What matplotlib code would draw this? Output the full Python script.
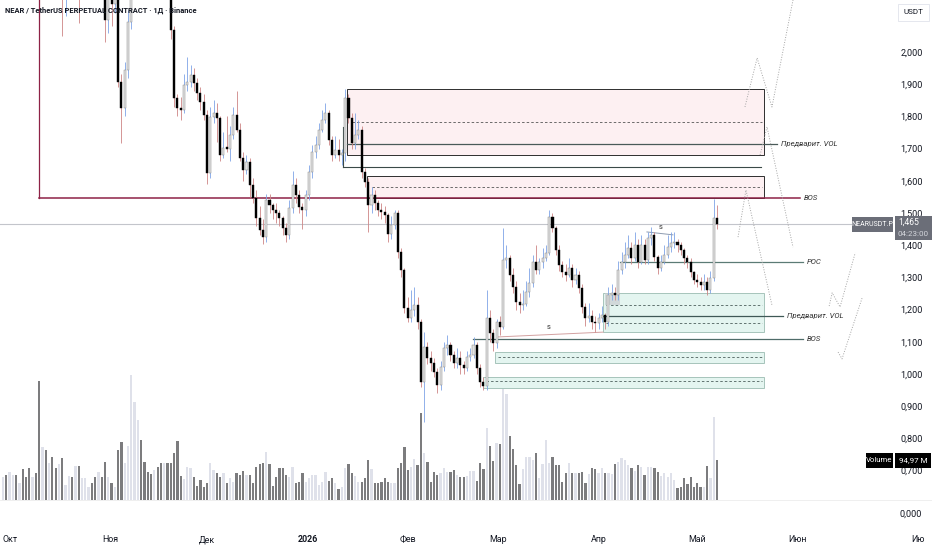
import matplotlib
matplotlib.use("Agg")
import matplotlib.pyplot as plt
import matplotlib.transforms as mtransforms
from matplotlib.patches import Rectangle
import numpy as np

# ---------------- data ----------------
first_open = 2.74
closes = [
    2.78, 2.72, 2.80, 2.88, 2.85, 2.95, 2.92, 2.86, 2.78, 2.82,
    2.74, 2.25, 2.38, 2.30, 2.42, 2.35, 2.28, 2.33, 2.22, 2.26,
    2.35, 2.30, 2.36, 2.24, 2.28, 2.34, 2.40, 2.37, 2.31, 2.36,
    2.28, 2.10, 2.18, 2.15, 2.22, 1.907, 1.826, 1.944, 2.093, 2.45,
    2.85, 3.05, 2.88, 2.74, 2.62, 2.58, 2.68, 2.60, 2.50, 2.55,
    2.40, 2.068, 1.857, 1.826, 1.820, 1.897, 1.907, 1.929, 1.904, 1.873,
    1.845, 1.804, 1.624, 1.798, 1.811, 1.795, 1.680, 1.702, 1.700, 1.742,
    1.804, 1.758, 1.671, 1.634, 1.658, 1.587, 1.547, 1.484, 1.447, 1.425,
    1.540, 1.525, 1.509, 1.500, 1.484, 1.453, 1.432, 1.516, 1.587, 1.556,
    1.519, 1.509, 1.556, 1.627, 1.689, 1.711, 1.758, 1.789, 1.811, 1.727,
    1.680, 1.696, 1.680, 1.686, 1.857, 1.795, 1.717, 1.742, 1.758, 1.627,
    1.596, 1.525, 1.556, 1.531, 1.509, 1.503, 1.494, 1.435, 1.463, 1.500,
    1.379, 1.323, 1.205, 1.174, 1.199, 1.214, 1.161, 0.975, 1.084, 1.050,
    1.034, 1.006, 0.966, 1.022, 1.081, 1.090, 1.059, 1.034, 1.050, 1.028,
    1.019, 1.053, 1.059, 1.090, 1.019, 0.975, 0.963, 1.174, 1.127, 1.096,
    1.161, 1.146, 1.354, 1.360, 1.307, 1.270, 1.224, 1.214, 1.217, 1.255,
    1.283, 1.348, 1.323, 1.348, 1.360, 1.376, 1.488, 1.453, 1.385, 1.339,
    1.317, 1.307, 1.329, 1.292, 1.307, 1.267, 1.208, 1.174, 1.180, 1.161,
    1.158, 1.174, 1.183, 1.161, 1.245, 1.252, 1.245, 1.323, 1.348, 1.370,
    1.391, 1.360, 1.401, 1.348, 1.401, 1.354, 1.422, 1.432, 1.363, 1.329,
    1.348, 1.370, 1.394, 1.407, 1.410, 1.401, 1.385, 1.360, 1.348, 1.317,
    1.292, 1.286, 1.276, 1.286, 1.261, 1.298, 1.484, 1.465,
]
highs = [
    2.82, 2.80, 2.83, 2.92, 2.93, 3.00, 2.99, 2.95, 2.89, 2.86,
    2.84, 2.78, 2.44, 2.41, 2.47, 2.45, 2.38, 2.37, 2.35, 2.30,
    2.39, 2.38, 2.40, 2.38, 2.32, 2.37, 2.45, 2.43, 2.40, 2.39,
    2.38, 2.30, 2.22, 2.21, 2.26, 2.25, 1.93, 1.97, 2.13, 2.52,
    2.98, 3.20, 3.10, 2.92, 2.78, 2.66, 2.72, 2.70, 2.63, 2.59,
    2.57, 2.42, 2.08, 1.87, 1.86, 1.93, 1.985, 1.96, 1.95, 1.92,
    1.89, 1.87, 1.82, 1.83, 1.85, 1.84, 1.80, 1.75, 1.80, 1.77,
    1.83, 1.88, 1.78, 1.69, 1.68, 1.67, 1.61, 1.57, 1.52, 1.48,
    1.56, 1.56, 1.53, 1.53, 1.51, 1.49, 1.47, 1.54, 1.63, 1.61,
    1.57, 1.53, 1.57, 1.65, 1.71, 1.74, 1.78, 1.82, 1.84, 1.82,
    1.74, 1.74, 1.73, 1.70, 1.885, 1.87, 1.81, 1.81, 1.79, 1.77,
    1.64, 1.61, 1.58, 1.57, 1.54, 1.53, 1.52, 1.50, 1.49, 1.51,
    1.51, 1.39, 1.33, 1.24, 1.26, 1.27, 1.24, 1.17, 1.13, 1.10,
    1.07, 1.05, 1.02, 1.04, 1.10, 1.12, 1.10, 1.07, 1.08, 1.07,
    1.04, 1.07, 1.08, 1.115, 1.10, 1.03, 0.99, 1.261, 1.20, 1.14,
    1.17, 1.18, 1.453, 1.40, 1.37, 1.33, 1.29, 1.25, 1.26, 1.29,
    1.33, 1.37, 1.40, 1.36, 1.39, 1.40, 1.509, 1.50, 1.46, 1.40,
    1.35, 1.34, 1.36, 1.34, 1.33, 1.32, 1.28, 1.22, 1.22, 1.20,
    1.18, 1.19, 1.21, 1.19, 1.27, 1.28, 1.27, 1.35, 1.38, 1.41,
    1.43, 1.41, 1.44, 1.42, 1.43, 1.42, 1.44, 1.455, 1.44, 1.37,
    1.37, 1.40, 1.43, 1.44, 1.44, 1.42, 1.41, 1.39, 1.37, 1.36,
    1.32, 1.31, 1.30, 1.31, 1.30, 1.32, 1.543, 1.525,
]
lows = [
    2.70, 2.68, 2.70, 2.77, 2.81, 2.83, 2.88, 2.82, 2.74, 2.75,
    2.70, 2.20, 2.22, 2.26, 2.28, 2.31, 2.24, 2.23, 2.05, 2.11,
    2.22, 2.26, 2.27, 2.09, 2.18, 2.24, 2.31, 2.33, 2.27, 2.26,
    2.20, 2.03, 2.06, 2.08, 2.12, 1.89, 1.717, 1.80, 1.92, 2.07,
    2.42, 2.80, 2.82, 2.68, 2.58, 2.52, 2.55, 2.55, 2.46, 2.47,
    2.36, 2.04, 1.83, 1.80, 1.79, 1.81, 1.88, 1.89, 1.88, 1.85,
    1.82, 1.79, 1.59, 1.61, 1.78, 1.72, 1.66, 1.67, 1.69, 1.66,
    1.73, 1.75, 1.66, 1.60, 1.62, 1.55, 1.53, 1.46, 1.43, 1.405,
    1.41, 1.50, 1.48, 1.47, 1.46, 1.43, 1.41, 1.42, 1.50, 1.53,
    1.50, 1.45, 1.49, 1.54, 1.61, 1.67, 1.70, 1.75, 1.78, 1.71,
    1.66, 1.67, 1.66, 1.65, 1.66, 1.78, 1.70, 1.70, 1.73, 1.61,
    1.58, 1.441, 1.50, 1.51, 1.49, 1.48, 1.47, 1.41, 1.42, 1.45,
    1.36, 1.30, 1.19, 1.16, 1.16, 1.18, 1.14, 0.96, 0.85, 1.03,
    1.01, 0.99, 0.94, 0.95, 1.01, 1.06, 1.04, 1.02, 1.02, 1.00,
    1.00, 1.01, 1.04, 1.05, 1.00, 0.96, 0.95, 0.95, 1.10, 1.07,
    1.08, 1.12, 1.14, 1.33, 1.29, 1.25, 1.20, 1.19, 1.20, 1.21,
    1.24, 1.27, 1.31, 1.31, 1.33, 1.35, 1.37, 1.44, 1.37, 1.32,
    1.30, 1.29, 1.30, 1.27, 1.28, 1.25, 1.19, 1.15, 1.16, 1.14,
    1.13, 1.14, 1.16, 1.14, 1.15, 1.23, 1.23, 1.23, 1.31, 1.33,
    1.36, 1.34, 1.35, 1.33, 1.34, 1.34, 1.34, 1.40, 1.35, 1.31,
    1.32, 1.34, 1.36, 1.38, 1.39, 1.38, 1.37, 1.34, 1.33, 1.30,
    1.28, 1.27, 1.26, 1.26, 1.245, 1.25, 1.29, 1.45,
]
volumes_m = [
    55, 59, 66, 59, 59, 40, 73, 55, 76, 55,
    64, 282, 126, 119, 88, 102, 76, 85, 100, 36,
    57, 55, 81, 81, 52, 52, 31, 40, 55, 66,
    55, 90, 55, 40, 31, 119, 137, 88, 128, 296,
    232, 190, 142, 90, 66, 62, 71, 78, 88, 88,
    88, 88, 111, 140, 57, 50, 78, 76, 55, 33,
    47, 31, 40, 88, 71, 64, 55, 64, 40, 52,
    43, 64, 59, 69, 59, 59, 40, 78, 85, 88,
    114, 85, 33, 55, 76, 76, 59, 55, 78, 40,
    43, 64, 43, 52, 59, 59, 36, 43, 66,
    45, 52, 40, 26, 31, 76, 85, 64, 57, 43,
    43, 52, 95, 73, 40, 40, 43, 52, 43,
    40, 40, 76, 88, 126, 71, 78, 97, 83, 206,
    111, 90, 43, 66, 59, 64, 76, 66, 66, 71,
    59, 55, 55, 57,
    69, 69, 45, 88, 73, 171, 128, 92, 135, 133,
    273, 251, 152, 121, 83, 38, 73, 102, 102, 95,
    111, 52, 85, 142, 88, 102, 83, 83, 43, 64,
    88, 64, 64, 64, 66, 40, 62, 76, 73, 64,
    76, 64, 64, 62, 85, 90, 100, 95, 83, 76,
    69, 83, 78, 59, 78, 78, 76, 66, 57, 64,
    55, 64, 47, 28, 31, 52, 38, 55, 31, 40,
    31, 31, 81, 52, 197, 94.97,
]
month_labels = ["Окт", "Ноя", "Дек", "2026", "Фев", "Мар", "Апр", "Май", "Июн"]
month_pos = [2.1, 32.5, 62.0, 92.7, 123.1, 150.5, 181.2, 211.0, 241.3]
price_ticks = [0.7, 0.8, 0.9, 1.0, 1.1, 1.2, 1.3, 1.4, 1.5, 1.6, 1.7, 1.8, 1.9, 2.0]
last_price = 1.465

# zones: (x0, x1, p_low, p_high, dashed levels)
red_zones = [(104.6, 231.3, 1.680, 1.885, [1.783]),
             (110.6, 231.3, 1.547, 1.615, [1.581])]
green_zones = [(182.4, 231.3, 1.130, 1.252, [1.214, 1.158]),
               (149.5, 231.3, 1.034, 1.068, [1.053]),
               (145.9, 231.3, 0.957, 0.991, [0.978])]
# labelled levels: (x0, x1, price, label, color)
levels = [(104.6, 235.3, 1.714, "Предварит. VOL", "#4a5a58"),
          (10.9, 242.2, 1.547, "BOS", "#8e2246"),
          (187.5, 243.2, 1.348, "POC", "#5b7b75"),
          (182.4, 237.1, 1.180, "Предварит. VOL", "#3f5856"),
          (142.9, 243.2, 1.109, "BOS", "#4f6c69")]
extra_level = (103.3, 230.4, 1.643)
swing_lines = [((150.2, 1.115), (182.4, 1.130), (165.7, 1.146), "#d3a1a1"),
               ((195.7, 1.441), (203.6, 1.432), (200.0, 1.456), "#8d9bb0")]
proj_paths = [
    [(225.5, 1.829), (229.2, 1.981), (233.7, 1.829), (240.7, 2.192)],
    [(230.1, 1.680), (232.2, 1.767), (240.1, 1.394)],
    [(223.4, 1.425), (225.8, 1.571), (233.7, 1.214)],
    [(251.1, 1.211), (252.0, 1.252), (254.4, 1.208), (259.0, 1.376)],
    [(253.8, 1.068), (255.0, 1.047), (261.1, 1.236)],
]

# ---------------- figure ----------------
W, H = 932, 550
plt.rcParams['font.family'] = ['Liberation Sans Narrow', 'Roboto', 'DejaVu Sans']
fig = plt.figure(figsize=(W / 100, H / 100), dpi=100)
fig.patch.set_facecolor("white")
ax_bottom_px = 528
axv = fig.add_axes([0, (H - ax_bottom_px) / H, 895 / W, ax_bottom_px / H])
ax = axv.twinx()

n = len(closes)
idx = np.arange(n)
c = np.array(closes)
o = np.array([first_open] + closes[:-1])
h = np.array(highs)
l = np.array(lows)
v = np.array(volumes_m)
up = c >= o

xlim = (-0.912, 271.1)
axv.set_xlim(*xlim)
ax.set_xlim(*xlim)
ax.set_ylim(0.522, 2.161)
axv.set_ylim(-66.5, 1187)

# volume
vcol = np.where(up, "#dfe1ea", "#7c7c7e")
axv.bar(idx, v, width=0.68, color=vcol, linewidth=0, zorder=1)
axv.axhline(0, color="#ececec", lw=0.6, zorder=0)

# zones
for x0, x1, p0, p1, dl in red_zones:
    ax.add_patch(Rectangle((x0, p0), x1 - x0, p1 - p0, facecolor="#fdf0f2",
                           edgecolor="#2e2e2e", lw=0.7, zorder=1))
    for d in dl:
        ax.plot([x0 + 1.5, x1 - 0.5], [d, d], color="#555555", lw=0.6,
                ls=(0, (3, 2.5)), zorder=1.2)
for x0, x1, p0, p1, dl in green_zones:
    ax.add_patch(Rectangle((x0, p0), x1 - x0, p1 - p0, facecolor="#e4f5f0",
                           edgecolor="#a6c4bb", lw=0.7, zorder=1))
    for d in dl:
        ax.plot([x0 + 1.0, x1 - 0.5], [d, d], color="#4d5f5c", lw=0.6,
                ls=(0, (3, 2.5)), zorder=1.2)
ax.add_patch(Rectangle((183.0, 1.214), 4.5, 0.038, facecolor="#c9ccd0",
                       edgecolor="none", alpha=0.7, zorder=1.3))

# levels
for x0, x1, p, lab, col in levels:
    lw = 1.1 if lab == "BOS" and col.startswith("#8e") else 0.9
    ax.plot([x0, x1], [p, p], color=col, lw=lw, zorder=1.5)
    ax.text(x1 + 1.2, p, lab, fontsize=5.6, style="italic", color="#333333",
            va="center", ha="left", zorder=5)
ax.plot([levels[1][0], levels[1][0]], [levels[1][2], 2.2], color="#8e2246",
        lw=0.9, zorder=1.5)
ex0, ex1, ep = extra_level
ax.plot([ex0, ex1], [ep, ep], color="#3a4a48", lw=0.8, zorder=1.5)
ax.plot([ex0, ex0], [ep, 1.767], color="#3a4a48", lw=0.8, zorder=1.5)

# current price line
ax.plot([xlim[0], 258.0], [last_price, last_price], color="#c3c5cb", lw=0.8, zorder=1.4)

# swing lines
for (a, b, t, col) in swing_lines:
    ax.plot([a[0], b[0]], [a[1], b[1]], color=col, lw=0.7, zorder=1.6)
    ax.text(t[0], t[1], "s", fontsize=5.5, color="#333333", ha="center",
            va="center", zorder=5)

# projection paths
for path in proj_paths:
    xs = [p[0] for p in path]
    ys = [p[1] for p in path]
    ax.plot(xs, ys, color="#a5a5a5", lw=0.7, ls=(0, (1, 1.6)), zorder=1.7)

# candles
ax.vlines(idx[up], l[up], h[up], color="#7ea4e6", lw=0.6, zorder=2)
ax.vlines(idx[~up], l[~up], h[~up], color="#cd8585", lw=0.6, zorder=2)
bb = np.minimum(o, c)
bh = np.maximum(np.abs(c - o), 0.004)
ax.bar(idx[up], bh[up], bottom=bb[up], width=0.62, color="#e3e3e3",
       edgecolor="#8a8a8a", linewidth=0.35, zorder=3)
ax.bar(idx[~up], bh[~up], bottom=bb[~up], width=0.62, color="#000000",
       edgecolor="#000000", linewidth=0.3, zorder=3)

# axes styling
for a_ in (ax, axv):
    for s in a_.spines.values():
        s.set_visible(False)
axv.set_yticks([])
axv.set_xticks([])
ax.set_xticks([])
ax.set_yticks(price_ticks)
ax.set_yticklabels([f"{t:.3f}".replace(".", ",") for t in price_ticks],
                   fontsize=6.6, color="#131722")
ax.tick_params(axis="y", length=0, pad=4)

# month labels
trans = mtransforms.blended_transform_factory(ax.transData, ax.transAxes)
for pos, lab in zip(month_pos, month_labels):
    ax.text(pos, -12 / ax_bottom_px, lab, transform=trans, ha="center",
            va="center", fontsize=6.4, color="#131722",
            fontweight="bold" if lab == "2026" else "normal", clip_on=False)


def fx(x):
    return x / W


def fy(y):
    return 1 - y / H


def frect(x0, y0, x1, y1, fc, ec="none"):
    fig.patches.append(Rectangle((fx(x0), fy(y1)), (x1 - x0) / W, (y1 - y0) / H,
                                 transform=fig.transFigure, facecolor=fc,
                                 edgecolor=ec, lw=0.6, zorder=10))


fig.text(fx(918), fy(540), "Ию", fontsize=6.4, color="#131722", ha="center", va="center")
fig.text(fx(899), fy(514), "0,000", fontsize=6.6, color="#131722", ha="left", va="center")
fig.add_artist(plt.Line2D([0, 1], [fy(500), fy(500)], transform=fig.transFigure,
                          color="#ededed", lw=0.6, zorder=0))

# title
fig.text(fx(5), fy(11), "NEAR / TetherUS PERPETUAL CONTRACT · 1Д · Binance",
         fontsize=5.4, fontweight="bold", color="#131722", ha="left",
         va="center", zorder=12)

# USDT box
frect(898, 4, 929, 21, "white", "#e0e3eb")
fig.text(fx(913.5), fy(12.5), "USDT", fontsize=5.8, color="#131722", ha="center",
         va="center", zorder=12)

# last price labels
frect(852, 217, 893, 232, "#6b6e78")
fig.text(fx(872.5), fy(224.5), "NEARUSDT.P", fontsize=5.0, color="white",
         ha="center", va="center", zorder=12)
frect(895, 216, 932, 240, "#6b6e78")
fig.text(fx(898), fy(222), f"{last_price:.3f}".replace(".", ","), fontsize=6.2,
         color="white", ha="left", va="center", zorder=12)
fig.text(fx(898), fy(233.5), "04:23:00", fontsize=5.8, color="#d4d6dc",
         ha="left", va="center", zorder=12)

# volume labels
frect(866, 453, 893, 468, "#000000")
fig.text(fx(879.5), fy(460.5), "Volume", fontsize=5.6, color="white",
         ha="center", va="center", zorder=12)
frect(895, 453, 931, 468, "#000000")
fig.text(fx(913), fy(460.5), f"{volumes_m[-1]:.2f}".replace(".", ",") + " M",
         fontsize=5.8, color="white", ha="center", va="center", zorder=12)

fig.savefig("out.png", dpi=100, facecolor="white")
